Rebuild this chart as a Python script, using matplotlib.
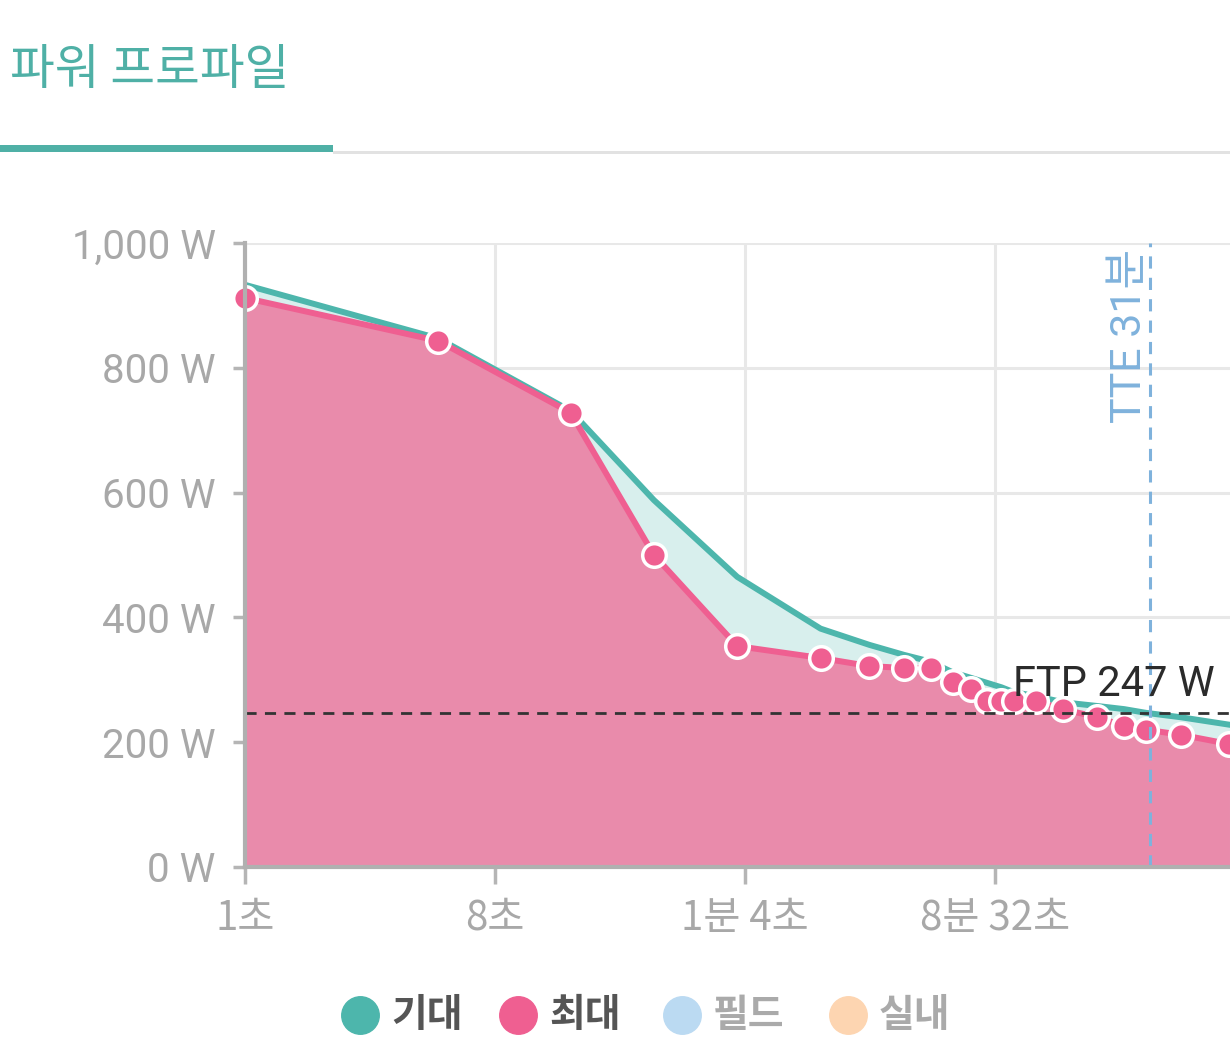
import numpy as np
import matplotlib.pyplot as plt
from matplotlib.lines import Line2D
from matplotlib.patches import Rectangle

# power curve data (duration in seconds, watts)
durations = [1, 5, 15, 30, 60, 120, 180, 240, 300, 360, 420, 480, 540, 600, 720, 900, 1200, 1500, 1800, 2400, 3600]
max_w = [912, 843, 728, 500, 354, 335, 322, 319, 319, 296, 285, 266, 266, 266, 266, 253, 240, 226, 220, 212, 197]
expected_w = [933, 847, 731, 588, 465, 382, 356, 340, 329, 312, 303, 295, 288, 280, 274, 264, 258, 253, 247, 240, 228]

ftp = 247
tte_seconds = 31 * 60

x_ticks = [1, 8, 64, 512]
x_tick_labels = ["1초", "8초", "1분 4초", "8분 32초"]
y_ticks = [0, 200, 400, 600, 800, 1000]
y_tick_labels = ["0 W", "200 W", "400 W", "600 W", "800 W", "1,000 W"]

legend_names = ["기대", "최대", "필드", "실내"]
legend_colors = ["#4db6ac", "#ef5f91", "#bbdaf2", "#fdd5b1"]
legend_text_colors = ["#555555", "#555555", "#aaaaaa", "#aaaaaa"]

FONT = ["Roboto", "Noto Sans CJK KR", "DejaVu Sans"]
KFONT = ["Noto Sans CJK KR", "DejaVu Sans"]
plt.rcParams["font.family"] = FONT

W, H = 1230, 1064
fig = plt.figure(figsize=(W / 100, H / 100), dpi=100)

# header
fig.text(10 / W, 1 - 70 / H, "파워 프로파일", family=KFONT, fontsize=35,
         color="#4fb0a6", va="center", ha="left")
fig.add_artist(Rectangle((333 / W, 1 - 154 / H), 1, 3 / H, transform=fig.transFigure,
                         color="#e2e2e2", lw=0))
fig.add_artist(Rectangle((0, 1 - 152 / H), 333 / W, 7 / H, transform=fig.transFigure,
                         color="#4fb0a6", lw=0))

left, right, top, bottom = 245, 1231, 243, 867
ax = fig.add_axes([left / W, 1 - bottom / H, (right - left) / W, (bottom - top) / H])
ax.set_xscale("log", base=2)
px_per_oct = (995 - 245) / 9
ax.set_xlim(1, 2 ** ((right - left) / px_per_oct))
ax.set_ylim(0, 1000)

ax.fill_between(durations, expected_w, color="#d8efed", lw=0, zorder=1)
ax.fill_between(durations, max_w, color="#e98bab", lw=0, zorder=2)
ax.plot(durations, expected_w, color="#4db6ac", lw=4.3, zorder=3, solid_joinstyle="round")
ax.plot(durations, max_w, color="#ef5f91", lw=4.3, zorder=4, solid_joinstyle="round",
        marker="o", ms=17, mfc="#ef5f91", mec="white", mew=2.5, clip_on=False)

ax.axhline(ftp, color="#333333", lw=2, ls=(0, (4, 3)), zorder=5)
ax.text(2 ** ((1215 - left) / px_per_oct), ftp + 12, f"FTP {ftp} W", color="#2b2b2b",
        fontsize=30, ha="right", va="bottom", zorder=6)
ax.axvline(tte_seconds, color="#7fb2dc", lw=2.2, ls=(0, (4, 3)), zorder=5)
ax.text(tte_seconds / 1.19, 990, "TTE 31분", color="#7fb2dc", fontsize=31,
        rotation=90, ha="center", va="top", family=FONT, zorder=6)

ax.set_xticks(x_ticks)
ax.set_xticklabels(x_tick_labels, family=KFONT)
ax.xaxis.set_minor_locator(plt.NullLocator())
ax.set_yticks(y_ticks)
ax.set_yticklabels(y_tick_labels)
ax.tick_params(axis="both", colors="#b5b5b5", labelcolor="#a8a8a8", labelsize=29,
               width=2.5, length=9)
ax.tick_params(axis="x", pad=10, length=12)
ax.tick_params(axis="y", pad=12)
ax.grid(True, color="#e8e8e8", lw=2.2, zorder=0)
ax.set_axisbelow(True)
for s in ["top", "right"]:
    ax.spines[s].set_visible(False)
for s in ["left", "bottom"]:
    ax.spines[s].set_color("#b0b0b0")
    ax.spines[s].set_linewidth(3)
    ax.spines[s].set_zorder(7)

# legend
circle_x = [360, 518, 682, 848]
for cx, name, c, tc in zip(circle_x, legend_names, legend_colors, legend_text_colors):
    fig.add_artist(Line2D([cx / W], [1 - 1015 / H], marker="o", ms=27, mfc=c, mec=c,
                          lw=0, transform=fig.transFigure))
    fig.text((cx + 31) / W, 1 - 1015 / H, name, family=KFONT, fontsize=28,
             fontweight="bold", color=tc, ha="left", va="center")

fig.savefig("out.png", dpi=100)
